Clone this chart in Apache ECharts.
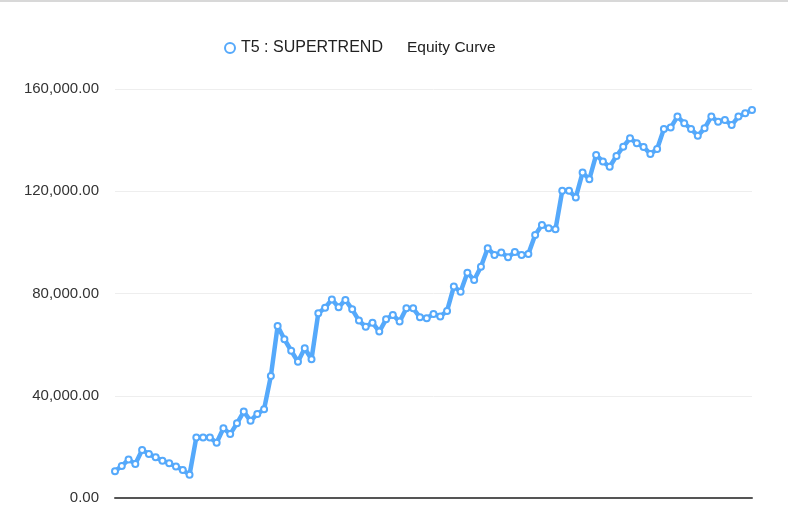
<!DOCTYPE html>
<html>
<head>
<meta charset="utf-8">
<script src="https://cdn.jsdelivr.net/npm/echarts@6/dist/echarts.min.js"></script>
<style>
html,body{margin:0;padding:0;background:#fff;}
#c{width:788px;height:528px;}
</style>
</head>
<body>
<div id="c"></div>
<script>
var seriesName = 'T5 : SUPERTREND';
var chartTitle = 'Equity Curve';
var yTicks = [0, 40000, 80000, 120000, 160000];
var equity = [
  10500, 12500, 15100, 13300, 18800, 17200, 15900, 14600, 13600, 12300,
  11000, 9100, 23700, 23700, 23700, 21600, 27300, 25000, 29200, 33800,
  30200, 32900, 34700, 47700, 67300, 62100, 57600, 53300, 58600, 54300,
  72300, 74400, 77700, 74600, 77500, 73800, 69400, 67000, 68600, 65100,
  69900, 71600, 69000, 74200, 74200, 70700, 70300, 72000, 71000, 73200,
  82700, 80700, 88100, 85300, 90500, 97700, 95100, 96000, 94200, 96200,
  95100, 95500, 102900, 106800, 105500, 105100, 120200, 120200, 117600, 127300,
  124700, 134200, 131600, 129600, 133800, 137400, 140700, 138800, 137300, 134600,
  136500, 144400, 144900, 149200, 146600, 144400, 141700, 144600, 149200, 147200,
  147900, 145900, 149200, 150500, 151800
];
var categories = equity.map(function(_, i){ return String(i + 1); });

var chart = echarts.init(document.getElementById('c'));
chart.setOption({
  backgroundColor: '#fff',
  animation: false,
  title: {
    text: chartTitle,
    left: 402, top: 35,
    textStyle: {fontFamily: 'Liberation Sans', fontSize: 15.5, fontWeight: 'normal', color: '#222'}
  },
  legend: {
    data: [{name: seriesName, icon: 'emptyCircle'}],
    left: 219, top: 35,
    itemWidth: 10, itemHeight: 10,
    textStyle: {fontFamily: 'Liberation Sans', fontSize: 16, color: '#222', padding: [0, 0, 0, 1]}
  },
  graphic: [{
    type: 'rect', shape: {x: 0, y: 0, width: 788, height: 2},
    style: {fill: '#d8d8d8'}, silent: true
  }],
  grid: {left: 115, right: 36, top: 89, bottom: 30, containLabel: false},
  xAxis: {
    type: 'category',
    data: categories,
    boundaryGap: false,
    axisLine: {show: true, lineStyle: {color: '#555', width: 2}},
    axisTick: {show: false},
    axisLabel: {show: false},
    splitLine: {show: false}
  },
  yAxis: {
    type: 'value',
    min: yTicks[0], max: yTicks[yTicks.length - 1], interval: 40000,
    axisLine: {show: false},
    axisTick: {show: false},
    axisLabel: {
      fontFamily: 'Liberation Sans', fontSize: 15, color: '#333', margin: 16,
      formatter: function(v){
        return v.toLocaleString('en-US', {minimumFractionDigits: 2, maximumFractionDigits: 2});
      }
    },
    splitLine: {lineStyle: {color: '#eeeeee', width: 1}}
  },
  series: [{
    name: seriesName,
    type: 'line',
    data: equity,
    symbol: 'emptyCircle',
    symbolSize: 6,
    showAllSymbol: true,
    color: '#55a9fb',
    lineStyle: {width: 4.5, color: '#55a9fb'},
    itemStyle: {color: '#55a9fb', borderWidth: 2}
  }]
});
</script>
</body>
</html>
